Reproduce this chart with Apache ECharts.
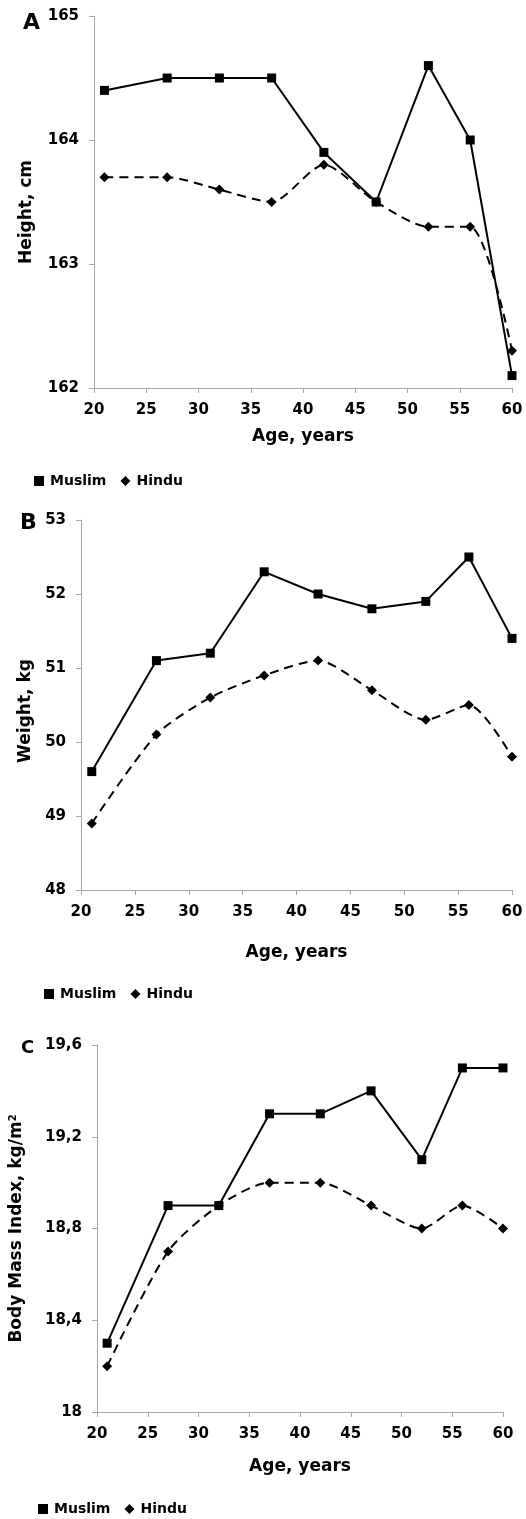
<!DOCTYPE html>
<html><head><meta charset="utf-8">
<script src="https://cdn.jsdelivr.net/npm/echarts@6/dist/echarts.min.js"></script>
<style>html,body{margin:0;padding:0;background:#fff}#c{width:526px;height:1519px}</style>
</head><body><div id="c"></div>
<script>
const ages = [21, 27, 32, 37, 42, 47, 52, 56, 60];
const heightMuslim = [164.4, 164.5, 164.5, 164.5, 163.9, 163.5, 164.6, 164.0, 162.1];
const heightHindu  = [163.7, 163.7, 163.6, 163.5, 163.8, 163.5, 163.3, 163.3, 162.3];
const weightMuslim = [49.6, 51.1, 51.2, 52.3, 52.0, 51.8, 51.9, 52.5, 51.4];
const weightHindu  = [48.9, 50.1, 50.6, 50.9, 51.1, 50.7, 50.3, 50.5, 49.8];
const bmiMuslim = [18.3, 18.9, 18.9, 19.3, 19.3, 19.4, 19.1, 19.5, 19.5];
const bmiHindu  = [18.2, 18.7, 18.9, 19.0, 19.0, 18.9, 18.8, 18.9, 18.8];
const panelLetters = ['A', 'B', 'C'];
const yTitles = ['Height, cm', 'Weight, kg', 'Body Mass Index, kg/m{sup|2}'];
const xTitle = 'Age, years';

const pair = (xs, ys) => xs.map((x, i) => [x, ys[i]]);
const FONT = 'DejaVu Sans';
const AX = '#a6a6a6';

const grids = [
  {left: 94, top: 16, right: 14, height: 372},
  {left: 81, top: 520, right: 14, height: 370},
  {left: 95, top: 1045, right: 23, height: 367}
];
const yCfg = [
  {min: 162, max: 165, interval: 1, gap: 59, pad: [0, 20, 0, 0]},
  {min: 48, max: 53, interval: 1, gap: 46, pad: [0, 12, 0, 0]},
  {min: 18, max: 19.6, interval: 0.4, gap: 71, pad: [0, 0, 0, 0]}
];
const xGaps = [40, 54, 46];

const xAxes = grids.map((g, i) => ({
  type: 'value', gridIndex: i, min: 20, max: 60, interval: 5,
  axisLine: {show: true, lineStyle: {color: AX, width: 1}},
  axisTick: {show: true, length: 5, lineStyle: {color: AX}},
  splitLine: {show: false},
  axisLabel: {color: '#000', fontFamily: FONT, fontWeight: 'bold', fontSize: 15, margin: 15},
  name: xTitle, nameLocation: 'middle', nameGap: xGaps[i],
  nameTextStyle: {color: '#000', fontFamily: FONT, fontWeight: 'bold', fontSize: 17}
}));
const yAxes = yCfg.map((c, i) => ({
  type: 'value', gridIndex: i, min: c.min, max: c.max, interval: c.interval,
  axisLine: {show: true, lineStyle: {color: AX, width: 1}},
  axisTick: {show: true, length: 5, lineStyle: {color: AX}},
  splitLine: {show: false},
  axisLabel: {color: '#000', fontFamily: FONT, fontWeight: 'bold', fontSize: 15, margin: 15,
    formatter: v => String(Math.round(v * 10) / 10).replace('.', ',')},
  name: yTitles[i], nameLocation: 'middle', nameGap: c.gap, nameRotate: 90,
  nameTextStyle: {color: '#000', fontFamily: FONT, fontWeight: 'bold', fontSize: 17, padding: c.pad,
    rich: {sup: {fontSize: 10, fontFamily: FONT, fontWeight: 'bold', color: '#000', verticalAlign: 'top', padding: [0, 0, 8, 0]}}}
}));

const mk = (name, data, i, hindu) => ({
  name, type: 'line', xAxisIndex: i, yAxisIndex: i, data,
  symbol: hindu ? 'diamond' : 'rect', symbolSize: hindu ? 10 : 9,
  smooth: hindu ? 0.25 : false,
  lineStyle: {color: '#000', width: 2, type: hindu ? [9, 6] : 'solid'},
  itemStyle: {color: '#000'},
  z: hindu ? 2 : 3
});
const series = [
  mk('Muslim', pair(ages, heightMuslim), 0, false),
  mk('Hindu', pair(ages, heightHindu), 0, true),
  mk('Muslim', pair(ages, weightMuslim), 1, false),
  mk('Hindu', pair(ages, weightHindu), 1, true),
  mk('Muslim', pair(ages, bmiMuslim), 2, false),
  mk('Hindu', pair(ages, bmiHindu), 2, true)
];
const legendPos = [{left: 29, top: 469}, {left: 39, top: 982}, {left: 33, top: 1497}];
const legends = legendPos.map(p => ({
  left: p.left, top: p.top, orient: 'horizontal', itemWidth: 10, itemHeight: 10, itemGap: 14,
  textStyle: {color: '#000', fontFamily: FONT, fontWeight: 'bold', fontSize: 14, padding: [0, 0, 0, 1]},
  data: [{name: 'Muslim', icon: 'rect'}, {name: 'Hindu', icon: 'diamond'}],
  selectedMode: false
}));
const titlePos = [{left: 23, top: 12, size: 22}, {left: 20, top: 512, size: 22}, {left: 21, top: 1039, size: 18}];
const titles = titlePos.map((p, i) => ({
  text: panelLetters[i], left: p.left, top: p.top, padding: 0,
  textStyle: {color: '#000', fontFamily: FONT, fontWeight: 'bold', fontSize: p.size}
}));

const chart = echarts.init(document.getElementById('c'), null, {renderer: 'canvas'});
chart.setOption({
  backgroundColor: '#fff', animation: false,
  title: titles, legend: legends, grid: grids,
  xAxis: xAxes, yAxis: yAxes, series
});
</script></body></html>
